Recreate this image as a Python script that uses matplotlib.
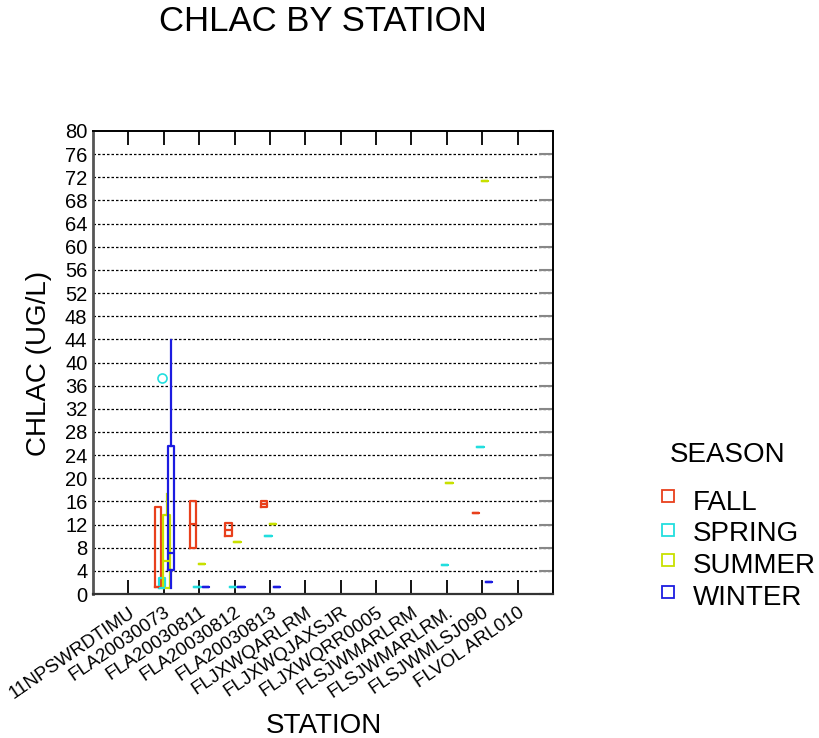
import numpy as np
import matplotlib
matplotlib.use("Agg")
import matplotlib.pyplot as plt
from matplotlib.lines import Line2D
from matplotlib.transforms import ScaledTranslation

plt.rcParams['font.family'] = ['Liberation Sans', 'DejaVu Sans']

stations = ['11NPSWRDTIMU', 'FLA20030073', 'FLA20030811', 'FLA20030812',
            'FLA20030813', 'FLJXWQARLRM', 'FLJXWQJAXSJR', 'FLJXWQRR0005',
            'FLSJWMARLRM', 'FLSJWMARLRM.', 'FLSJWMLSJ090', 'FLVOL ARL010']
seasons = ['FALL', 'SPRING', 'SUMMER', 'WINTER']
season_colors = ['#e8401c', '#22dede', '#c8e000', '#1c1ce0']

# five-number summaries: (station, whisker low, Q1, median, Q3, whisker high)
fall_stats = [
    ('FLA20030073', 1.2, 1.2, 1.2, 15.1, 15.1),
    ('FLA20030811', 7.9, 7.9, 12.1, 16.1, 16.1),
    ('FLA20030812', 10.0, 10.0, 11.06, 12.2, 12.2),
    ('FLA20030813', 15.1, 15.1, 15.6, 16.1, 16.1),
    ('FLSJWMLSJ090', 14.05, 14.05, 14.05, 14.05, 14.05),
]
spring_stats = [
    ('FLA20030073', 1.1, 1.1, 1.1, 2.8, 2.8),
    ('FLA20030811', 1.15, 1.15, 1.15, 1.15, 1.15),
    ('FLA20030812', 1.2, 1.2, 1.2, 1.2, 1.2),
    ('FLA20030813', 10.1, 10.1, 10.1, 10.1, 10.1),
    ('FLSJWMARLRM.', 4.95, 4.95, 4.95, 4.95, 4.95),
    ('FLSJWMLSJ090', 25.45, 25.45, 25.45, 25.45, 25.45),
]
summer_stats = [
    ('FLA20030073', 1.1, 1.1, 5.7, 13.6, 17.2),
    ('FLA20030811', 5.2, 5.2, 5.2, 5.2, 5.2),
    ('FLA20030812', 8.9, 8.9, 8.9, 8.9, 8.9),
    ('FLA20030813', 12.15, 12.15, 12.15, 12.15, 12.15),
    ('FLSJWMARLRM.', 19.2, 19.2, 19.2, 19.2, 19.2),
    ('FLSJWMLSJ090', 71.4, 71.4, 71.4, 71.4, 71.4),
]
winter_stats = [
    ('FLA20030073', 1.1, 4.1, 7.1, 25.6, 43.9),
    ('FLA20030811', 1.15, 1.15, 1.15, 1.15, 1.15),
    ('FLA20030812', 1.2, 1.2, 1.2, 1.2, 1.2),
    ('FLA20030813', 1.2, 1.2, 1.2, 1.2, 1.2),
    ('FLSJWMLSJ090', 2.0, 2.0, 2.0, 2.0, 2.0),
]
spring_outliers = {'FLA20030073': [37.3]}

yticks = list(range(0, 81, 4))

W, H = 820, 738
fig = plt.figure(figsize=(W / 100, H / 100), dpi=100)


def fpos(x, y):
    return x / W, 1 - y / H


ax = fig.add_axes([93 / W, 1 - 594 / H, (553 - 93) / W, (594 - 131) / H])

offsets = [-0.17, -0.045, 0.08, 0.2]
all_stats = [fall_stats, spring_stats, summer_stats, winter_stats]
outliers = [{}, spring_outliers, {}, {}]

for stats, off, col, outl in zip(all_stats, offsets, season_colors, outliers):
    bxp_stats = []
    pos = []
    for st, lo, q1, med, q3, hi in stats:
        bxp_stats.append(dict(whislo=lo, q1=q1, med=med, q3=q3, whishi=hi,
                              fliers=outl.get(st, [])))
        pos.append(stations.index(st) + 1 + off)
    ax.bxp(bxp_stats, positions=pos, widths=0.18, showcaps=False,
           manage_ticks=False,
           boxprops=dict(color=col, linewidth=1.6),
           medianprops=dict(color=col, linewidth=1.6),
           whiskerprops=dict(color=col, linewidth=1.6),
           flierprops=dict(marker='o', markersize=6.5, markerfacecolor='none',
                           markeredgecolor=col, markeredgewidth=1.2))

ax.set_xlim(0, 13)
ax.set_ylim(0, 80)
ax.set_yticks(yticks)
ax.set_yticklabels([str(v) for v in yticks], fontsize=14.5)
for v in yticks[1:-1]:
    ax.axhline(v, color='black', linewidth=0.9, linestyle=(0, (2, 1.6)), zorder=0)

ax.set_xticks(range(1, len(stations) + 1))
ax.set_xticklabels(stations, fontsize=13.5, rotation=34.5, ha='right', va='top',
                   rotation_mode='anchor')
for lab in ax.get_xticklabels():
    lab.set_transform(lab.get_transform() + ScaledTranslation(0.11, 0, fig.dpi_scale_trans))

ax.tick_params(axis='x', which='both', direction='in', top=True, bottom=True,
               length=10, width=1.3, color='black', pad=7)
ax.tick_params(axis='y', which='both', left=False, right=True, direction='in',
               length=10, width=1.5, color='#888888', pad=4)

for side in ['top', 'right']:
    ax.spines[side].set_linewidth(1.4)
    ax.spines[side].set_color('black')
ax.spines['left'].set_linewidth(2.0)
ax.spines['left'].set_color('#555555')
ax.spines['bottom'].set_linewidth(1.6)
ax.spines['bottom'].set_color('#333333')

fig.text(*fpos(323, 31), 'CHLAC BY STATION', fontsize=25, ha='center', va='baseline')
fig.text(*fpos(324, 733), 'STATION', fontsize=20, ha='center', va='baseline')
fig.text(*fpos(39, 363), 'CHLAC (UG/L)', fontsize=20, ha='center', va='center',
         rotation=90)

# season legend
fig.text(*fpos(670, 462), 'SEASON', fontsize=20, ha='left', va='baseline')
row_marker_y = [496, 530, 560, 592]
row_text_y = [510, 541, 573, 605]
for name, col, my, ty in zip(seasons, season_colors, row_marker_y, row_text_y):
    fig.add_artist(Line2D([668 / W], [1 - my / H], transform=fig.transFigure,
                          marker='s', markersize=9, markerfacecolor='none',
                          markeredgecolor=col, markeredgewidth=1.3, linestyle='none'))
    fig.text(*fpos(693, ty), name, fontsize=20, ha='left', va='baseline')

fig.savefig('out.png', dpi=100)
